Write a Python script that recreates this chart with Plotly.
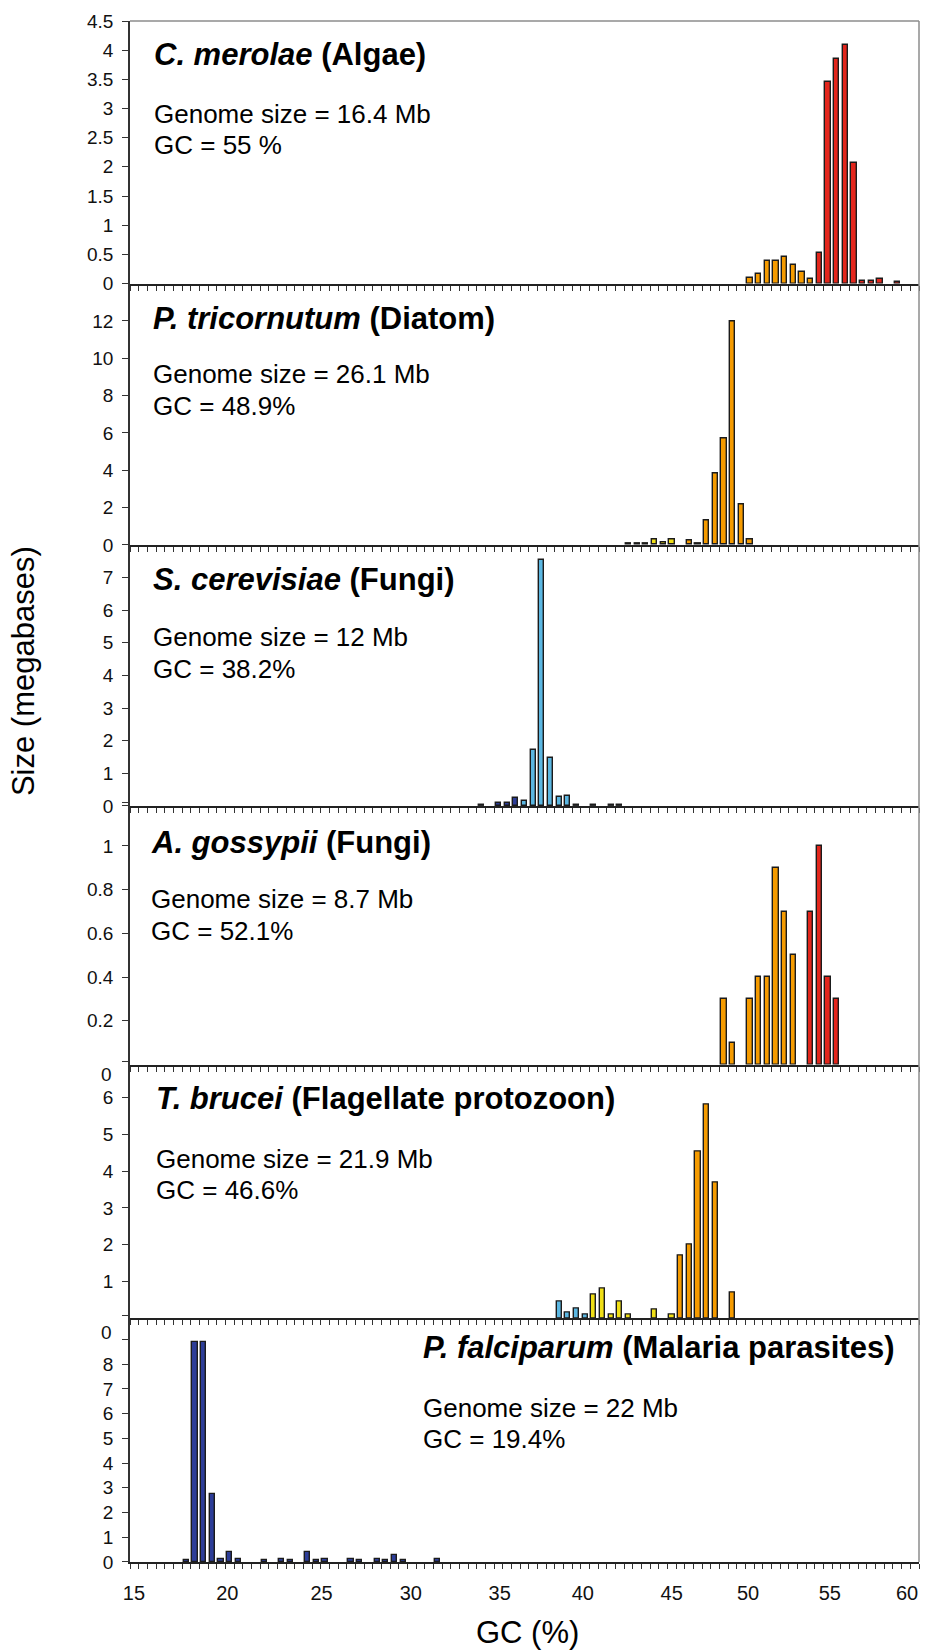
import plotly.graph_objects as go

# ---------------- data ----------------
# GC bins (%) and size (megabases) per species; colour class per bar
merolae_gc = [50.5, 51, 51.5, 52, 52.5, 53, 53.5, 54, 54.5, 55, 55.5, 56, 56.5, 57, 57.5, 58, 59]
merolae_mb = [0.09, 0.16, 0.38, 0.38, 0.45, 0.31, 0.19, 0.07, 0.52, 3.46, 3.85, 4.09, 2.07, 0.05, 0.05, 0.07, 0.03]
merolae_cls = ["o"] * 8 + ["r"] * 9

tricornutum_gc = [43.5, 44, 44.5, 45, 45.5, 46, 47, 47.5, 48, 48.5, 49, 49.5, 50, 50.5]
tricornutum_mb = [0.07, 0.07, 0.07, 0.28, 0.14, 0.28, 0.21, 0.07, 1.33, 3.84, 5.72, 11.96, 2.15, 0.28]
tricornutum_cls = ["y"] * 6 + ["o"] * 8

cerevisiae_gc = [35, 36, 36.5, 37, 37.5, 38, 38.5, 39, 39.5, 40, 40.5, 41.5, 42.5, 43]
cerevisiae_mb = [0.03, 0.08, 0.08, 0.24, 0.15, 1.72, 7.53, 1.47, 0.27, 0.32, 0.03, 0.03, 0.03, 0.03]
cerevisiae_cls = ["d"] * 4 + ["l"] * 10

gossypii_gc = [49, 49.5, 50.5, 51, 51.5, 52, 52.5, 53, 54, 54.5, 55, 55.5]
gossypii_mb = [0.30, 0.10, 0.30, 0.40, 0.40, 0.90, 0.70, 0.50, 0.70, 1.00, 0.40, 0.30]
gossypii_cls = ["o"] * 8 + ["r"] * 4

brucei_gc = [39.5, 40, 40.5, 41, 41.5, 42, 42.5, 43, 43.5, 45, 46, 46.5, 47, 47.5, 48, 48.5, 49.5]
brucei_mb = [0.44, 0.14, 0.26, 0.09, 0.65, 0.81, 0.09, 0.44, 0.09, 0.22, 0.09, 1.71, 2.01, 4.54, 5.81, 3.68, 0.70]
brucei_cls = ["l"] * 4 + ["y"] * 7 + ["o"] * 6

falciparum_gc = [18, 18.5, 19, 19.5, 20, 20.5, 21, 22.5, 23.5, 24, 25, 25.5, 26, 27.5, 28, 29, 29.5, 30, 30.5, 32.5]
falciparum_mb = [0.08, 8.91, 8.91, 2.75, 0.13, 0.40, 0.13, 0.08, 0.13, 0.08, 0.40, 0.08, 0.13, 0.13, 0.08, 0.13, 0.08, 0.29, 0.08, 0.13]
falciparum_cls = ["d"] * 20

species_titles = ["<b><i>C. merolae</i> (Algae)</b>",
                  "<b><i>P. tricornutum</i> (Diatom)</b>",
                  "<b><i>S. cerevisiae</i> (Fungi)</b>",
                  "<b><i>A. gossypii</i> (Fungi)</b>",
                  "<b><i>T. brucei</i> (Flagellate protozoon)</b>",
                  "<b><i>P. falciparum</i> (Malaria parasites)</b>"]
genome_sizes = ["Genome size = 16.4 Mb", "Genome size = 26.1 Mb", "Genome size = 12 Mb",
                "Genome size = 8.7 Mb", "Genome size = 21.9 Mb", "Genome size = 22 Mb"]
gc_texts = ["GC = 55 %", "GC = 48.9%", "GC = 38.2%", "GC = 52.1%", "GC = 46.6%", "GC = 19.4%"]

y_tickvals = [[0, 0.5, 1, 1.5, 2, 2.5, 3, 3.5, 4, 4.5],
              [0, 2, 4, 6, 8, 10, 12],
              [0, 0.12, 1, 2, 3, 4, 5, 6, 7],
              [0.014, 0.2, 0.4, 0.6, 0.8, 1],
              [0.08, 1, 2, 3, 4, 5, 6],
              [0, 1, 2, 3, 4, 5, 6, 7, 8, 9]]
y_ticktext = [["0", "0.5", "1", "1.5", "2", "2.5", "3", "3.5", "4", "4.5"],
              ["0", "2", "4", "6", "8", "10", "12"],
              ["0", "", "1", "2", "3", "4", "5", "6", "7"],
              ["", "0.2", "0.4", "0.6", "0.8", "1"],
              ["", "1", "2", "3", "4", "5", "6"],
              ["0", "1", "2", "3", "4", "5", "6", "7", "8", ""]]
y_ranges = [[0, 4.5], [0, 14], [0, 8], [0, 1.183], [0, 6.9], [0, 9.86]]

# x tick labels as they sit under the axis in the source figure
x_ticktext = ["15", "20", "25", "30", "35", "40", "45", "50", "55", "60"]
x_tickpos = [14.98, 20.36, 25.8, 30.94, 36.07, 40.86, 45.99, 50.39, 55.11, 59.56]

# ---------------- styling ----------------
COLORS = {"r": "#E3261C", "o": "#F59B00", "y": "#F0DF16", "l": "#5BB7E2", "d": "#2D3D98"}
FONT = "Liberation Sans, Arial, sans-serif"

W, H = 930, 1652
L_PX, R_PX = 130, 919.5
T_PX, B_PX = 14, 1562
panel_edges = [14, 277.7, 540.3, 802.5, 1062.3, 1317, 1562]


def fy(px):
    return (B_PX - px) / (B_PX - T_PX)


def fx(px):
    return (px - L_PX) / (R_PX - L_PX)


series = [(merolae_gc, merolae_mb, merolae_cls),
          (tricornutum_gc, tricornutum_mb, tricornutum_cls),
          (cerevisiae_gc, cerevisiae_mb, cerevisiae_cls),
          (gossypii_gc, gossypii_mb, gossypii_cls),
          (brucei_gc, brucei_mb, brucei_cls),
          (falciparum_gc, falciparum_mb, falciparum_cls)]

fig = go.Figure()
layout = {}
for i, (gc, mb, cls) in enumerate(series):
    n = i + 1
    xa = "x" if n == 1 else f"x{n}"
    ya = "y" if n == 1 else f"y{n}"
    fig.add_trace(go.Bar(x=gc, y=mb, xaxis=xa, yaxis=ya, width=0.3,
                         marker=dict(color=[COLORS[c] for c in cls],
                                     line=dict(color="#1b1b1b", width=1.4)),
                         showlegend=False, hoverinfo="x+y"))
    dom = [fy(panel_edges[i + 1]), fy(panel_edges[i])]
    layout[f"yaxis{'' if n == 1 else n}"] = dict(
        domain=dom, range=y_ranges[i], anchor=xa, tickmode="array",
        tickvals=y_tickvals[i], ticktext=y_ticktext[i], ticks="outside", ticklen=6,
        tickcolor="#333", tickwidth=1.3, showline=True, linecolor="#333", linewidth=1.5,
        showgrid=False, zeroline=False, tickfont=dict(family=FONT, size=19, color="#111"),
        ticklabelstandoff=5, fixedrange=True)
    layout[f"xaxis{'' if n == 1 else n}"] = dict(
        domain=[0, 1], range=[14.75, 60.25], anchor=ya,
        tickmode="array", tickvals=x_tickpos, ticktext=x_ticktext,
        showticklabels=(n == 6), ticks="", showline=True, linecolor="#222", linewidth=2,
        showgrid=False, zeroline=False,
        minor=dict(ticks="outside", tick0=14.75, dtick=0.5, ticklen=5, tickcolor="#333", tickwidth=1,
                   showgrid=False),
        tickfont=dict(family=FONT, size=20, color="#111"), ticklabelstandoff=12, fixedrange=True)

annotations = []
title_y = [48, 313, 575, 839, 1096, 1347]
gsize_y = [107, 369, 633, 896, 1157, 1407]
gc_y = [139, 401, 665, 928, 1188, 1438]
text_x = [152, 151, 151, 149, 154, 421]
for i in range(6):
    annotations.append(dict(x=fx(text_x[i]), y=fy(title_y[i]), xref="paper", yref="paper",
                            text=species_titles[i], showarrow=False, xanchor="left", yanchor="middle",
                            font=dict(family=FONT, size=31, color="#000")))
    annotations.append(dict(x=fx(text_x[i]), y=fy(gsize_y[i]), xref="paper", yref="paper",
                            text=genome_sizes[i], showarrow=False, xanchor="left", yanchor="middle",
                            font=dict(family=FONT, size=26, color="#000")))
    annotations.append(dict(x=fx(text_x[i]), y=fy(gc_y[i]), xref="paper", yref="paper",
                            text=gc_texts[i], showarrow=False, xanchor="left", yanchor="middle",
                            font=dict(family=FONT, size=26, color="#000")))

# stray "0" labels of the overlapped axes
for ypx in [1072, 1331]:
    annotations.append(dict(x=fx(114), y=fy(ypx), xref="paper", yref="paper", text="0",
                            showarrow=False, xanchor="right", yanchor="middle",
                            font=dict(family=FONT, size=19, color="#111")))

annotations.append(dict(x=fx(23), y=fy(667), xref="paper", yref="paper", text="Size (megabases)",
                        textangle=-90, showarrow=False, xanchor="center", yanchor="middle",
                        font=dict(family=FONT, size=31, color="#000")))
annotations.append(dict(x=fx(528), y=fy(1633), xref="paper", yref="paper", text="GC (%)",
                        showarrow=False, xanchor="center", yanchor="middle",
                        font=dict(family=FONT, size=31, color="#000")))

shapes = [
    dict(type="line", xref="paper", yref="paper", x0=1, x1=1, y0=0, y1=1, line=dict(color="#8c8c8c", width=1.5)),
    dict(type="line", xref="paper", yref="paper", x0=0, x1=1, y0=1, y1=1, line=dict(color="#8c8c8c", width=1.5)),
]

fig.update_layout(width=W, height=H, margin=dict(l=L_PX, r=W - R_PX, t=T_PX, b=H - B_PX),
                  paper_bgcolor="white", plot_bgcolor="white", bargap=0,
                  annotations=annotations, shapes=shapes, **layout)

fig.write_html("out.html")
